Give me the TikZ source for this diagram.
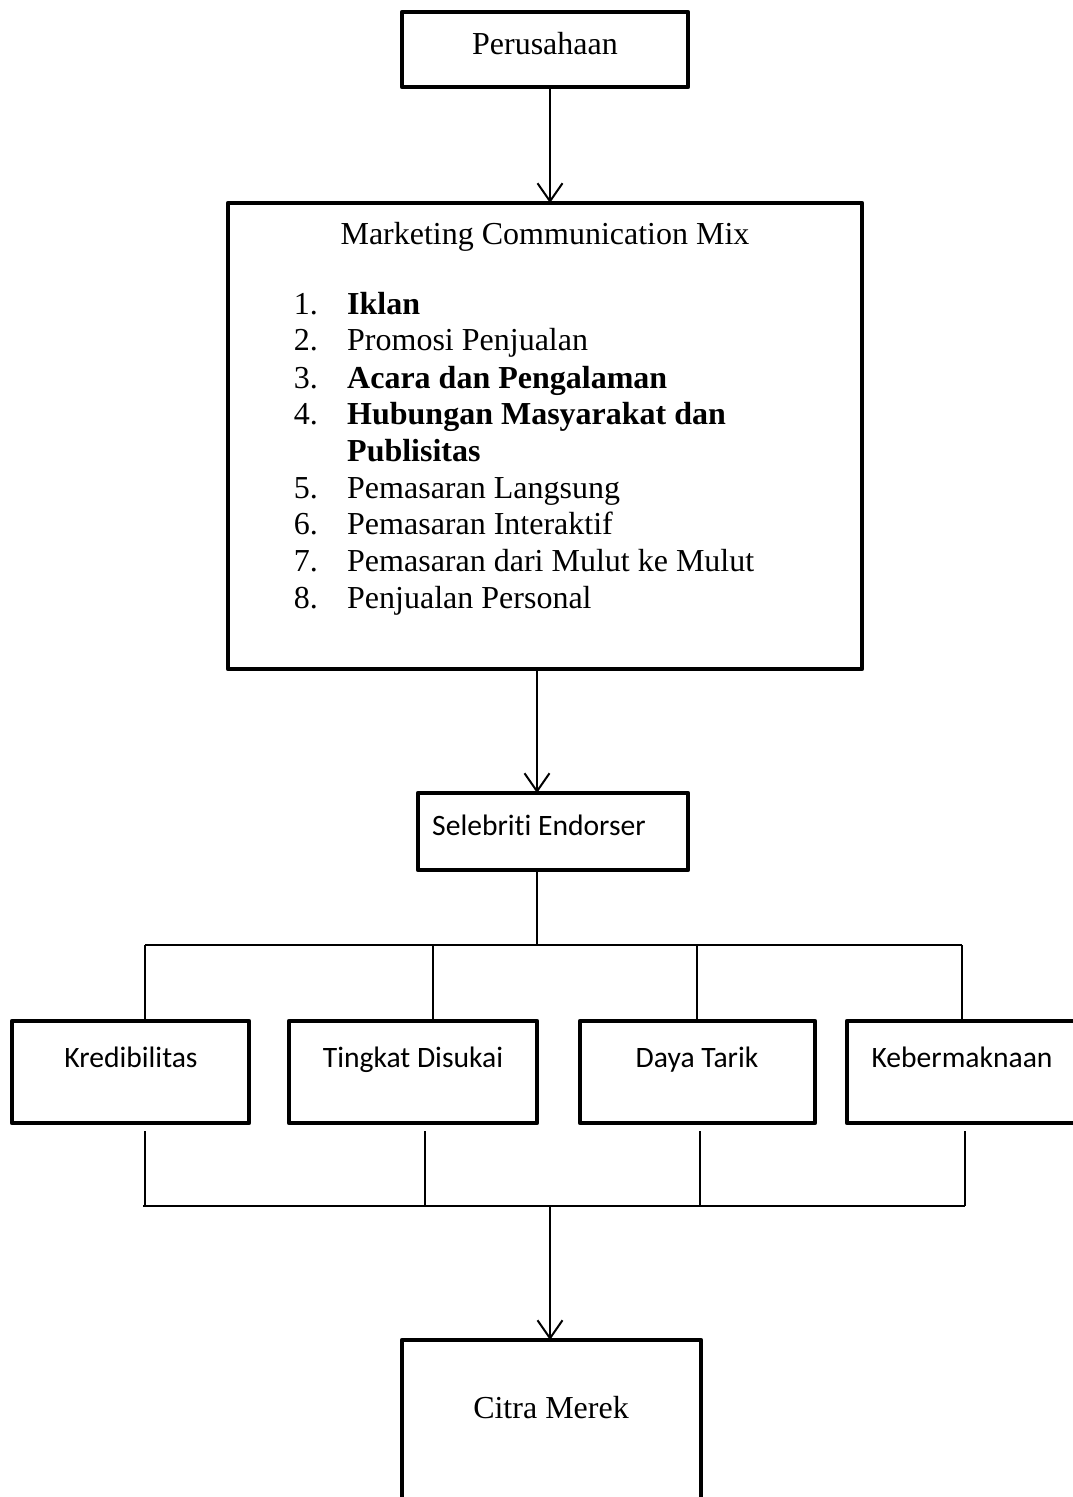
\documentclass[tikz,border=0pt]{standalone}
\usepackage{fontspec}
\setmainfont{Liberation Serif}
\newfontfamily\carlitofont[Ligatures=NoCommon]{Carlito}
\usetikzlibrary{arrows.meta}
\begin{document}
\begin{tikzpicture}[x=1pt,y=-1pt,
  box/.style={draw, line width=4.8pt, line join=round},
  conn/.style={line width=1.6pt},
  arr/.style={line width=2pt, -{Straight Barb[length=18pt,width=25pt,line width=2pt]}},
  tnr/.style={font=\fontsize{32}{38}\selectfont, inner sep=0pt},
  tnrb/.style={font=\fontsize{32}{38}\selectfont\bfseries, inner sep=0pt},
  cal/.style={font=\carlitofont\fontsize{29.6}{35}\selectfont, inner sep=0pt, anchor=base}]
\useasboundingbox (0,0) rectangle (1072,1497);
% boxes
\draw[box] (402,12) rectangle (688,87);
\node[tnr] (per) at (545,44) {Perusahaan};
\coordinate (perB) at (550,87);
\coordinate (mcmT) at (550,203);
\draw[box] (228,203) rectangle (862,669);
\node[tnr] (mcm) at (545,237) {Marketing Communication Mix};
\node[tnr, anchor=base east] (n1) at (318,314) {1.};
\node[tnrb, anchor=base west] (t1) at (347,314) {Iklan};
\node[tnr, anchor=base east] (n2) at (318,350) {2.};
\node[tnr, anchor=base west] (t2) at (347,350) {Promosi Penjualan};
\node[tnr, anchor=base east] (n3) at (318,388) {3.};
\node[tnrb, anchor=base west] (t3) at (347,388) {Acara dan Pengalaman};
\node[tnr, anchor=base east] (n4) at (318,424) {4.};
\node[tnrb, anchor=base west] (t4) at (347,424) {Hubungan Masyarakat dan};
\node[tnrb, anchor=base west] (t4b) at (347,461) {Publisitas};
\node[tnr, anchor=base east] (n5) at (318,498) {5.};
\node[tnr, anchor=base west] (t5) at (347,498) {Pemasaran Langsung};
\node[tnr, anchor=base east] (n6) at (318,534) {6.};
\node[tnr, anchor=base west] (t6) at (347,534) {Pemasaran Interaktif};
\node[tnr, anchor=base east] (n7) at (318,571) {7.};
\node[tnr, anchor=base west] (t7) at (347,571) {Pemasaran dari Mulut ke Mulut};
\node[tnr, anchor=base east] (n8) at (318,608) {8.};
\node[tnr, anchor=base west] (t8) at (347,608) {Penjualan Personal};
\coordinate (mcmB) at (537,669);
\coordinate (selT) at (537,793);
\draw[box] (418,793) rectangle (688,870);
\node[cal] (sel) at (539,835) {Selebriti Endorser};
\coordinate (selB) at (537,870);
\coordinate (hub) at (537,945);
% four boxes
\draw[box] (12,1021) rectangle (249,1123);
\node[cal] (k1) at (131,1067) {Kredibilitas};
\draw[box] (289,1021) rectangle (537,1123);
\node[cal] (k2) at (413,1067) {Tingkat Disukai};
\draw[box] (580,1021) rectangle (815,1123);
\node[cal] (k3) at (697,1067) {Daya Tarik};
\draw[box] (847,1021) rectangle (1080,1123);
\node[cal] (k4) at (962,1067) {Kebermaknaan};
% top connectors
\coordinate (a1) at (145,945); \coordinate (a1b) at (145,1021);
\coordinate (a2) at (433,945); \coordinate (a2b) at (433,1021);
\coordinate (a3) at (697,945); \coordinate (a3b) at (697,1021);
\coordinate (a4) at (962,945); \coordinate (a4b) at (962,1021);
% bottom connectors
\coordinate (b1) at (145,1131); \coordinate (b1b) at (145,1206);
\coordinate (b2) at (425,1131); \coordinate (b2b) at (425,1206);
\coordinate (b3) at (700,1131); \coordinate (b3b) at (700,1206);
\coordinate (b4) at (965,1131); \coordinate (b4b) at (965,1206);
\coordinate (bl) at (143,1206); \coordinate (mid) at (550,1206);
\coordinate (citT) at (550,1340);
\draw[box] (402,1520) -- (402,1340) -- (701,1340) -- (701,1520);
\node[tnr] (cit) at (551,1408) {Citra Merek};
% arrows
\draw[arr] (perB) -- (mcmT);
\draw[arr] (mcmB) -- (selT);
\draw[arr] (mid) -- (citT);
\draw[conn] (selB) -- (hub);
\draw[conn] (a1) -- (a4);
\draw[conn] (a1) -- (a1b); \draw[conn] (a2) -- (a2b);
\draw[conn] (a3) -- (a3b); \draw[conn] (a4) -- (a4b);
\draw[conn] (bl) -- (b4b);
\draw[conn] (b1) -- (b1b); \draw[conn] (b2) -- (b2b);
\draw[conn] (b3) -- (b3b); \draw[conn] (b4) -- (b4b);
\end{tikzpicture}
\end{document}
